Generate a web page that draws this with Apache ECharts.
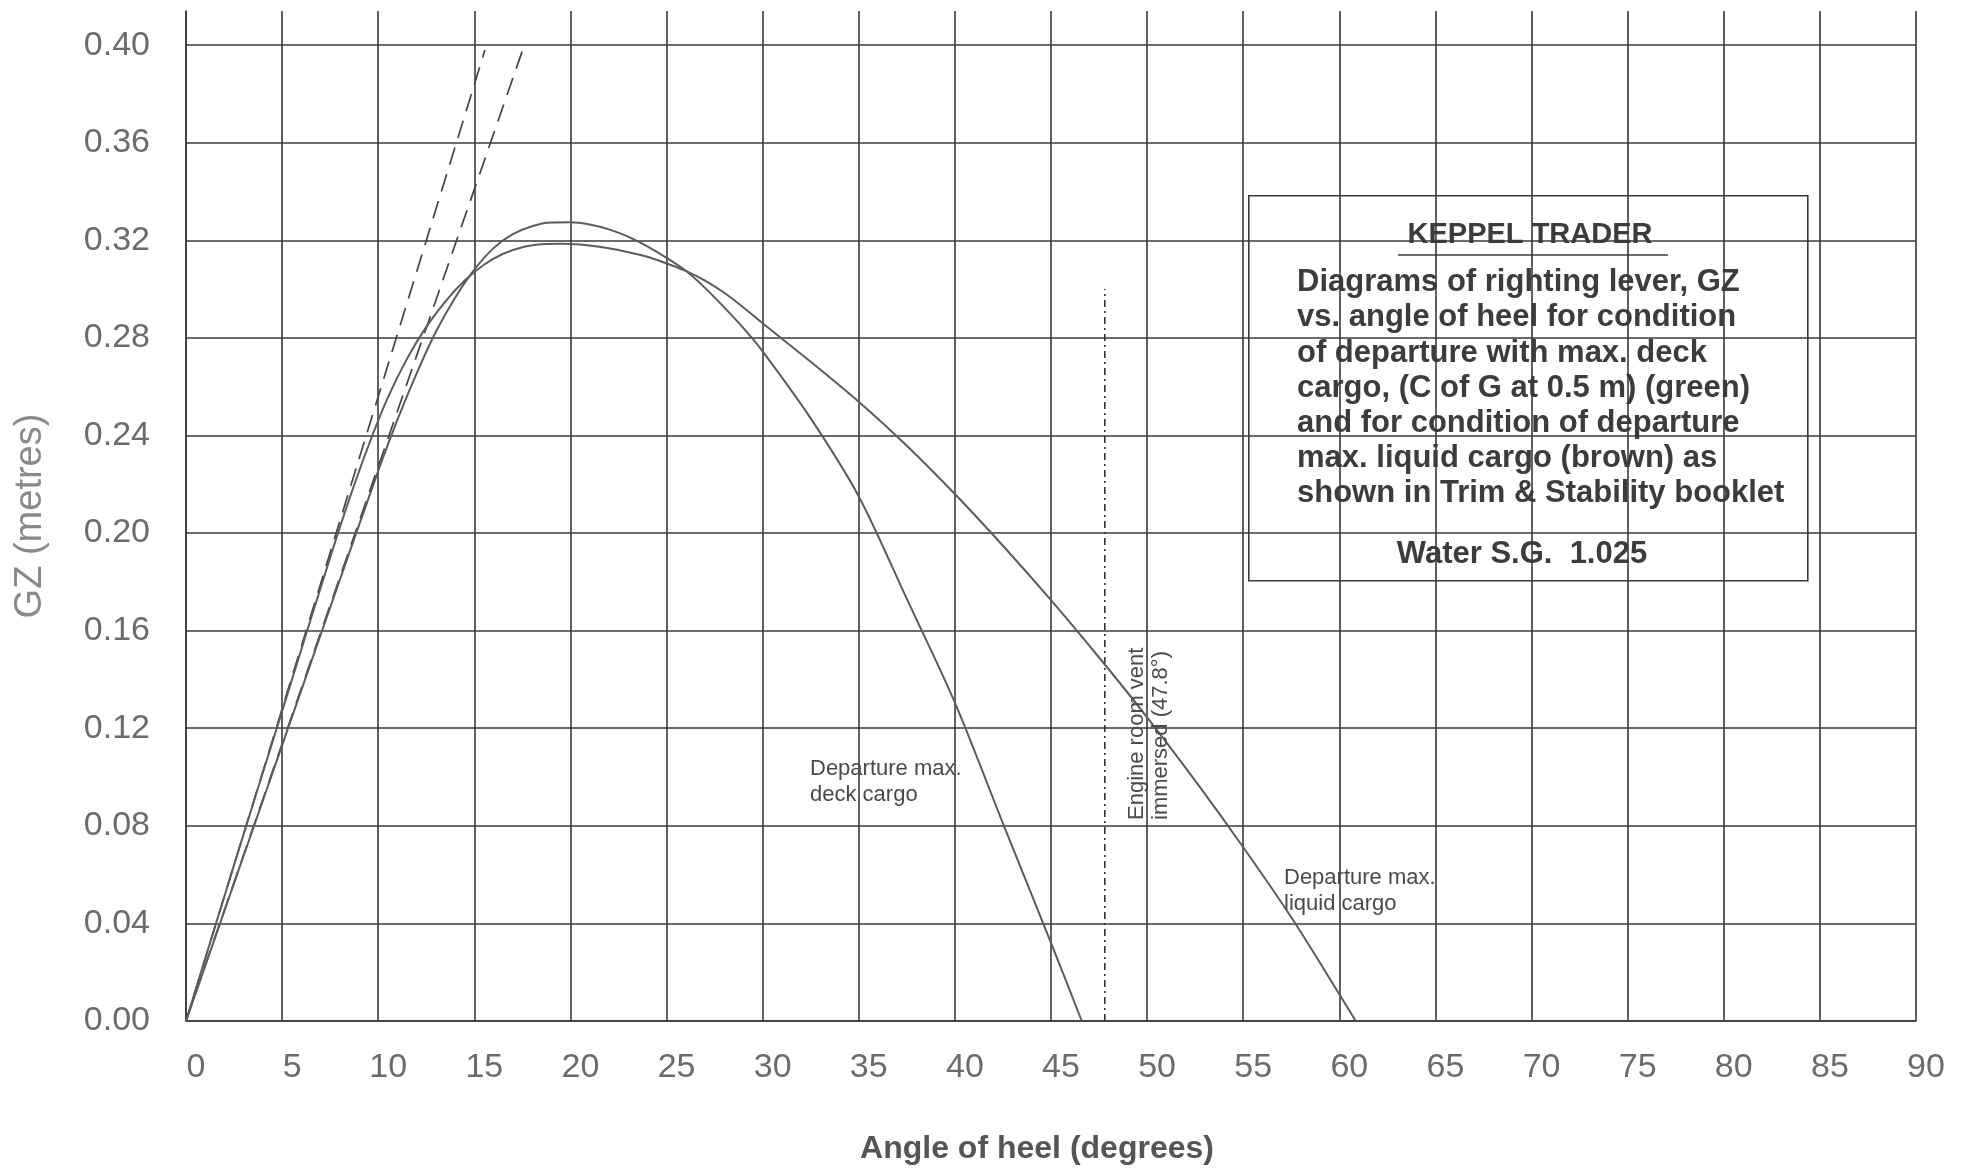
<!DOCTYPE html>
<html>
<head>
<meta charset="utf-8">
<script src="https://cdn.jsdelivr.net/npm/echarts@6/dist/echarts.min.js"></script>
<style>
  html, body { margin: 0; padding: 0; background: #fff; }
  #chart { width: 1970px; height: 1172px; }
</style>
</head>
<body>
<div id="chart"></div>
<script>
// GZ curves (angle in degrees, GZ in metres)
var deckAngle = [0, 2.5, 5, 7.5, 10, 11, 12, 13, 14, 15, 16, 17, 18, 19, 20, 21, 22, 23, 24, 25, 26, 27, 28, 29, 30, 32.5, 35, 37.5, 40, 42.5, 45, 46.6];
var deckGZ = [0, 0.0565, 0.113, 0.1695, 0.2255, 0.2465, 0.2655, 0.2825, 0.2965, 0.308, 0.3168, 0.3225, 0.3258, 0.3273, 0.3274, 0.3265, 0.3245, 0.3215, 0.3175, 0.3128, 0.3075, 0.3005, 0.2925, 0.284, 0.2745, 0.247, 0.215, 0.173, 0.1305, 0.081, 0.032, 0];

var liquidAngle = [0, 2.5, 5, 7.5, 8.5, 9.5, 10.5, 11.5, 12.5, 13.5, 14.5, 15.5, 16.5, 17.5, 18.5, 19.5, 20.5, 21.5, 22.5, 24, 25, 26, 27, 28, 29, 30, 32.5, 35, 37.5, 40, 42.5, 45, 47.5, 50, 52.5, 55, 57.5, 60, 60.85];
var liquidGZ = [0, 0.064, 0.127, 0.19, 0.214, 0.236, 0.2555, 0.2715, 0.2845, 0.295, 0.3035, 0.31, 0.3145, 0.3172, 0.3184, 0.3186, 0.3183, 0.3174, 0.316, 0.3133, 0.3105, 0.3075, 0.3035, 0.2985, 0.2925, 0.286, 0.2702, 0.2538, 0.2358, 0.216, 0.1948, 0.1725, 0.149, 0.1245, 0.0985, 0.0712, 0.0425, 0.011, 0];

// tangents drawn at the origin (dashed)
var tangentLiquid = [[0, 0], [15.55, 0.398]];
var tangentDeck = [[0, 0], [17.6, 0.40]];

// engine room vent immersion angle
var ventAngle = 47.8;
var ventTop = 0.30;

function zip(xs, ys) {
    return xs.map(function (x, i) { return [x, ys[i]]; });
}

var FONT = 'Liberation Sans, Arial, sans-serif';
var gridColor = '#3a3a3a';
var curveColor = '#5c5c5c';

var boxLines = [
    'Diagrams of righting lever, GZ',
    'vs. angle of heel for condition',
    'of departure with max. deck',
    'cargo, (C of G at 0.5 m) (green)',
    'and for condition of departure',
    'max. liquid cargo (brown) as',
    'shown in Trim & Stability booklet'
];

var option = {
    backgroundColor: '#fff',
    animation: false,
    grid: { left: 186, right: 54, top: 11, bottom: 151 },
    xAxis: {
        type: 'value',
        min: 0,
        max: 90,
        interval: 5,
        name: 'Angle of heel (degrees)',
        nameLocation: 'middle',
        nameGap: 112,
        nameTextStyle: { fontFamily: FONT, fontSize: 32, fontWeight: 'bold', color: '#555', padding: [0, 28, 0, 0] },
        axisLine: { show: true, lineStyle: { color: gridColor, width: 1.6 } },
        axisTick: { show: false },
        axisLabel: { fontFamily: FONT, fontSize: 34, color: '#6b6b6b', margin: 30, padding: [0, 0, 0, 20] },
        splitLine: { show: true, lineStyle: { color: gridColor, width: 1.6 } }
    },
    yAxis: {
        type: 'value',
        min: 0,
        max: 0.414,
        interval: 0.04,
        name: 'GZ (metres)',
        nameLocation: 'middle',
        nameGap: 136,
        nameTextStyle: { fontFamily: FONT, fontSize: 38, color: '#8a8a8a' },
        axisLine: { show: true, lineStyle: { color: gridColor, width: 1.6 } },
        axisTick: { show: false },
        axisLabel: {
            fontFamily: FONT, fontSize: 34, color: '#6b6b6b', margin: 36, showMaxLabel: false,
            formatter: function (v) {
                var k = v / 0.04;
                return Math.abs(k - Math.round(k)) < 1e-6 ? v.toFixed(2) : '';
            }
        },
        splitLine: { show: true, showMaxLine: false, lineStyle: { color: gridColor, width: 1.6 } }
    },
    series: [
        {
            name: 'Departure max. deck cargo',
            type: 'line', smooth: 0.3, symbol: 'none',
            lineStyle: { color: curveColor, width: 2 },
            data: zip(deckAngle, deckGZ), z: 5
        },
        {
            name: 'Departure max. liquid cargo',
            type: 'line', smooth: 0.3, symbol: 'none',
            lineStyle: { color: curveColor, width: 2 },
            data: zip(liquidAngle, liquidGZ), z: 5
        },
        {
            type: 'line', symbol: 'none',
            lineStyle: { color: '#444', width: 1.7, type: [18, 10] },
            data: tangentLiquid, z: 4
        },
        {
            type: 'line', symbol: 'none',
            lineStyle: { color: '#444', width: 1.7, type: [18, 10] },
            data: tangentDeck, z: 4
        },
        {
            type: 'line', symbol: 'none',
            lineStyle: { color: '#333', width: 1.6, type: [7, 4, 2, 4] },
            data: [[ventAngle, 0], [ventAngle, ventTop]], z: 4
        }
    ],
    graphic: [
        {
            type: 'group', z: 100,
            children: [
                {
                    type: 'rect', left: 1248, top: 195,
                    shape: { width: 559, height: 385 },
                    style: { fill: '#fff', stroke: '#3a3a3a', lineWidth: 1.6 }
                },
                {
                    type: 'text', x: 1530, y: 235,
                    style: { text: 'KEPPEL TRADER', font: 'bold 29px ' + FONT, fill: '#3c3c3c', align: 'center', verticalAlign: 'middle' }
                },
                {
                    type: 'line', shape: { x1: 1398, y1: 255, x2: 1668, y2: 255 },
                    style: { stroke: '#3c3c3c', lineWidth: 1.6 }
                },
                {
                    type: 'text', x: 1297, y: 265,
                    style: { text: boxLines.join('\n'), font: 'bold 31px ' + FONT, lineHeight: 35.2, fill: '#3c3c3c', align: 'left', verticalAlign: 'top' }
                },
                {
                    type: 'text', x: 1522, y: 554,
                    style: { text: 'Water S.G.  1.025', font: 'bold 31px ' + FONT, fill: '#3c3c3c', align: 'center', verticalAlign: 'middle' }
                }
            ]
        },
        {
            type: 'text', x: 810, y: 756, z: 100,
            style: { text: 'Departure max.\ndeck cargo', font: '22px ' + FONT, lineHeight: 26, fill: '#4a4a4a', align: 'left', verticalAlign: 'top' }
        },
        {
            type: 'text', x: 1284, y: 865, z: 100,
            style: { text: 'Departure max.\nliquid cargo', font: '22px ' + FONT, lineHeight: 26, fill: '#4a4a4a', align: 'left', verticalAlign: 'top' }
        },
        {
            type: 'text', x: 1149, y: 820, rotation: Math.PI / 2, z: 100,
            style: { text: 'Engine room vent\nimmersed (47.8°)', font: '22px ' + FONT, lineHeight: 24, fill: '#4a4a4a', align: 'left', verticalAlign: 'middle' }
        }
    ]
};

var chart = echarts.init(document.getElementById('chart'));
chart.setOption(option);
</script>
</body>
</html>
